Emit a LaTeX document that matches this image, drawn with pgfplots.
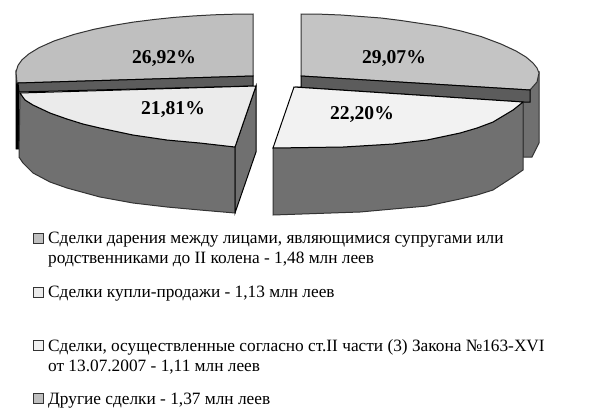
\documentclass[border=0pt]{standalone}
\usepackage{pgfplots}
\pgfplotsset{compat=1.18}
\usepackage{fontspec}
\setmainfont{Liberation Serif}
\definecolor{topL}{gray}{0.75}
\definecolor{topR}{gray}{0.77}
\definecolor{strip}{gray}{0.36}
\definecolor{sideD}{gray}{0.44}
\definecolor{wedL}{gray}{0.92}
\definecolor{wedR}{gray}{0.95}
\begin{document}
\begin{tikzpicture}
\path[use as bounding box] (0,0) rectangle (610pt,408pt);
\begin{axis}[at={(0,0)},anchor=south west,scale only axis,width=610pt,height=408pt,xmin=0,xmax=610,ymin=0,ymax=408,y dir=reverse,hide axis,clip=false]
% left pie
\addplot[fill=black,draw=black,line width=.6pt] coordinates {(16,72)(19,83)(19,149)(16,149)} --cycle;
\addplot[fill=topL,draw=black!80,line width=1pt] coordinates {(253,14)(234,14.2)(214,14.8)(194,15.9)(174,17.4)(154,19.5)(134,22)(114,25.3)(94,29.3)(74,34.4)(54,41)(39,47.7)(29,53.8)(22,59.8)(18,65.4)(16,72)(17,83)(253,76)} --cycle;
\addplot[fill=strip,draw=black,line width=1pt] coordinates {(253,76)(253,86)(19,92)(18,83)} --cycle;
\addplot[fill=sideD,draw=black!80,line width=1pt] coordinates {(20,93)(25,100)(33,105)(50,113)(67,119)(83,124)(100,128)(133,135)(167,140)(200,143)(235,147)(235,213)(200,210)(167,207)(133,203)(100,197)(67,188)(50,182)(33,173)(23,163)(19,157)} --cycle;
\addplot[fill=sideD,draw=black,line width=1pt] coordinates {(235,147)(256,86)(256,152)(235,213)} --cycle;
\addplot[fill=wedL,draw=black,line width=1pt] coordinates {(256,86)(235,147)(200,143)(167,140)(133,135)(100,128)(83,124)(67,119)(50,113)(33,105)(25,100)(20,93)} --cycle;
% right pie
\addplot[fill=sideD,draw=black!80,line width=1pt] coordinates {(530,90)(539,73)(539,143)(532,157)(523,157)(523,102)} --cycle;
\addplot[fill=topR,draw=black!80,line width=1pt] coordinates {(301,14)(321,14.2)(341,15)(361,16.5)(381,18)(401,20.5)(421,23.5)(441,26.5)(461,31)(481,36.5)(501,44)(516,51)(526,57)(533,63)(537,68)(539,73)(537,82)(530,90)(301,76)} --cycle;
\addplot[fill=strip,draw=black,line width=1pt] coordinates {(301,76)(530,90)(530,102)(523,102)(295,87)(301,87)} --cycle;
\addplot[fill=sideD,draw=black!80,line width=1pt] coordinates {(273,148)(343,147)(393,144)(427,140)(460,133)(477,128)(493,122)(513,110)(523,102)(523,170)(513,177)(493,190)(477,195)(460,199)(427,206)(393,209)(360,212)(273,215)} --cycle;
\addplot[fill=wedR,draw=black,line width=1pt] coordinates {(294,87)(523,102)(513,110)(493,122)(477,128)(460,133)(427,140)(393,144)(343,147)(273,148)} --cycle;
% legend keys
\addplot[fill=topL,draw=black!80,line width=1pt] coordinates {(33.5,233)(43.5,233)(43.5,243)(33.5,243)} --cycle;
\addplot[fill=wedL,draw=black!80,line width=1pt] coordinates {(33.5,287)(43.5,287)(43.5,297)(33.5,297)} --cycle;
\addplot[fill=wedR,draw=black!80,line width=1pt] coordinates {(33.5,340)(43.5,340)(43.5,350)(33.5,350)} --cycle;
\addplot[fill=topL,draw=black!80,line width=1pt] coordinates {(33.5,393)(43.5,393)(43.5,403)(33.5,403)} --cycle;
% labels
\node[font=\bfseries\fontsize{19.6}{20}\selectfont] at (axis cs:164,58) {26,92\%};
\node[font=\bfseries\fontsize{19.6}{20}\selectfont] at (axis cs:394,58) {29,07\%};
\node[font=\bfseries\fontsize{19.6}{20}\selectfont] at (axis cs:173,109) {21,81\%};
\node[font=\bfseries\fontsize{19.6}{20}\selectfont] at (axis cs:362,114) {22,20\%};
\node[anchor=base west,inner sep=0pt,font=\fontsize{17.3}{18}\selectfont] at (axis cs:48,243) {Сделки дарения между лицами, являющимися супругами или};
\node[anchor=base west,inner sep=0pt,font=\fontsize{17.3}{18}\selectfont] at (axis cs:48,263) {родственниками до II колена - 1,48 млн леев};
\node[anchor=base west,inner sep=0pt,font=\fontsize{17.3}{18}\selectfont] at (axis cs:48,297) {Сделки купли-продажи - 1,13 млн леев};
\node[anchor=base west,inner sep=0pt,font=\fontsize{17.3}{18}\selectfont] at (axis cs:48,351) {Сделки, осуществленные согласно ст.II части (3) Закона №163-XVI};
\node[anchor=base west,inner sep=0pt,font=\fontsize{17.3}{18}\selectfont] at (axis cs:48,371) {от 13.07.2007 - 1,11 млн леев};
\node[anchor=base west,inner sep=0pt,font=\fontsize{17.3}{18}\selectfont] at (axis cs:48,404) {Другие сделки - 1,37 млн леев};
\end{axis}
\end{tikzpicture}
\end{document}
